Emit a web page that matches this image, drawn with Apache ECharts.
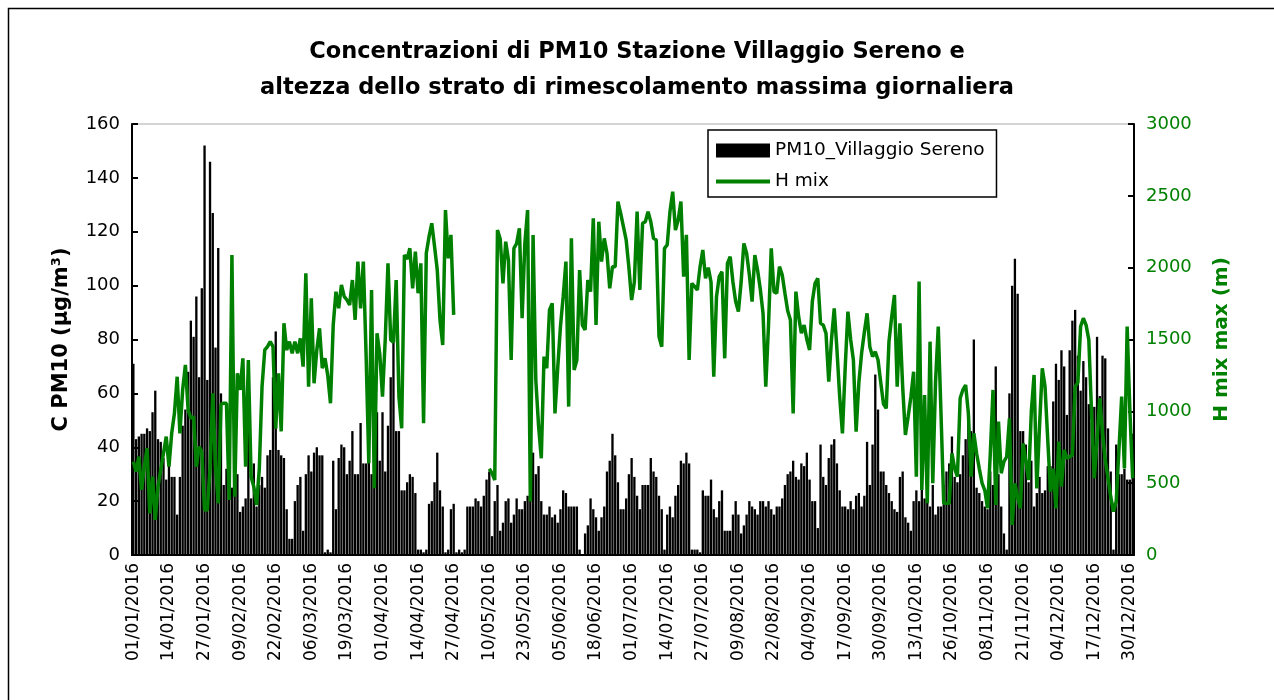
<!DOCTYPE html>
<html>
<head>
<meta charset="utf-8">
<script src="https://cdn.jsdelivr.net/npm/echarts@6/dist/echarts.min.js"></script>
<style>
  html, body { margin: 0; padding: 0; background: #fff; }
  #chart { width: 1274px; height: 700px; }
</style>
</head>
<body>
<div id="chart"></div>
<script>
// Daily PM10 concentration (µg/m³), 2016, station Villaggio Sereno
const pm10 = [
  71,43,44,45,45,47,46,53,61,43, 42,36,28,36,29,29,15,29,48,54,
  68,87,81,96,66,99,152,65,146,127, 77,114,60,26,32,21,25,31,30,16,
  18,21,65,21,34,18,26,29,25,37, 39,66,83,39,37,36,17,6,6,20,
  26,29,9,30,37,31,38,40,37,37, 1,2,1,35,17,36,41,40,30,35,
  46,30,30,49,34,34,36,30,35,53, 35,53,31,48,66,79,46,46,24,24,
  27,30,29,23,2,2,1,2,19,20, 27,38,24,18,1,2,17,19,1,2,
  1,2,18,18,18,21,20,18,22,28, 31,7,20,26,9,12,20,21,12,15,
  21,17,17,20,22,25,38,30,33,20, 15,15,18,14,15,12,17,24,23,18,
  18,18,18,2,0,8,11,21,17,14, 9,14,18,31,35,45,37,27,17,17,
  21,30,36,29,22,17,26,26,26,36, 31,29,22,17,2,15,18,14,22,26,
  35,34,38,34,2,2,2,1,24,22, 22,28,17,14,20,24,9,9,9,15,
  20,15,8,11,15,20,18,17,15,20, 20,18,20,17,15,18,18,21,26,30,
  31,35,29,28,34,33,38,28,20,20, 10,41,29,26,36,41,43,34,24,18,
  18,17,20,17,22,23,18,22,42,26, 41,67,54,31,31,26,23,20,17,16,
  29,31,14,12,9,20,24,20,26,21, 24,18,26,15,18,18,26,31,34,44,
  29,27,30,37,43,50,46,80,25,23, 20,18,17,31,26,70,30,18,8,2,
  60,100,110,97,46,46,41,27,35,18, 23,29,23,24,33,33,57,71,65,76,
  70,52,76,87,91,74,61,72,66,56, 49,55,81,59,74,73,47,31,2,41,
  30,30,32,28,28,45
];

// Daily maximum mixing height (m); null where no value was recorded
const hMix = [
  650,580,685,453,615,743,290,545,244,476, 592,708,824,615,847,986,1241,847,1149,1323,
  1010,951,963,615,754,720,313,313,603,1125, 620,360,1050,1056,1056,383,2088,406,1265,1149,
  1369,615,1357,545,475,348,600,1172,1427,1450, 1485,1450,880,1265,860,1613,1427,1485,1404,1485,
  1404,1508,1311,1961,1172,1787,1195,1427,1578,1300, 1369,1250,1056,1600,1833,1717,1880,1800,1775,1740,
  1914,1636,2042,1717,2042,1400,638,1845,464,1543, 1400,1102,1500,2030,1497,1480,1914,1100,882,2088,
  2060,2135,1856,2111,1822,2030,917,2100,2216,2309, 2150,1984,1636,1462,2401,2065,2228,1671,null,null,
  null,null,null,null,null,null,null,null,null,null, 600,570,522,2262,2200,1891,2181,2053,1357,2135,
  2169,2274,1648,2169,2401,372,2228,1218,900,673, 1381,1300,1706,1752,986,1300,1590,1800,2042,1033,
  2204,1288,1357,1984,1600,1566,1914,1833,2344,1601, 2320,2042,2204,2100,1856,2007,2007,2460,2378,2286,
  2193,2000,1775,1900,2390,1845,2309,2320,2390,2320, 2204,2193,1520,1450,2135,2158,2390,2529,2262,2332,
  2460,1938,2228,1357,1891,1870,1845,2007,2123,1926, 2000,1900,1241,1798,1938,1972,1369,2030,2077,1900,
  1764,1694,1900,2169,2100,1950,1764,2088,1984,1850, 1682,1172,1600,2135,1833,1822,2007,1950,1822,1700,
  1636,986,1833,1659,1543,1601,1500,1427,1764,1891, 1926,1613,1600,1543,1207,1500,1717,1427,1100,847,
  1300,1694,1500,1357,859,1200,1404,1550,1682,1450, 1381,1415,1357,1200,1050,1021,1485,1659,1810,1172,
  1613,1172,836,963,1100,1276,545,1903,453,1114, 360,1485,499,1200,1590,986,360,360,360,708,
  600,545,1091,1150,1183,986,545,847,708,600, 500,450,325,700,1149,348,928,569,650,684,
  951,209,499,400,325,777,650,522,1000,1253, 464,900,1300,1172,800,441,600,325,789,476,
  731,673,684,696,1172,1200,1590,1648,1600,1497, 986,534,800,1091,850,661,534,406,302,372,
  731,1102,603,1590,1000,534
];

const pmTicks = [0, 20, 40, 60, 80, 100, 120, 140, 160];
const hTicks = [0, 500, 1000, 1500, 2000, 2500, 3000];

// One category per day of 2016, labelled dd/mm/yyyy
const year = 2016;
const days = [];
for (let d = new Date(Date.UTC(year, 0, 1)); d.getUTCFullYear() === year; d.setUTCDate(d.getUTCDate() + 1)) {
  const dd = String(d.getUTCDate()).padStart(2, '0');
  const mm = String(d.getUTCMonth() + 1).padStart(2, '0');
  days.push(dd + '/' + mm + '/' + year);
}

const GREEN = '#008000';
const FONT = 'DejaVu Sans';
// Legend glyph for the line series: a 4px stroke centred in a 54x14 box
const LINE_ICON = 'path://M0,0M54,14M0,5H54V9H0Z';

const chart = echarts.init(document.getElementById('chart'), null, { renderer: 'canvas' });
chart.setOption({
  animation: false,
  backgroundColor: '#fff',
  textStyle: { fontFamily: FONT },
  title: {
    text: 'Concentrazioni di PM10 Stazione Villaggio Sereno e\naltezza dello strato di rimescolamento massima giornaliera',
    left: 'center',
    top: 29,
    textStyle: { fontFamily: FONT, fontSize: 22.5, fontWeight: 'bold', color: '#000', lineHeight: 36 }
  },
  legend: {
    orient: 'vertical',
    left: 708,
    top: 130,
    itemWidth: 54,
    itemHeight: 14,
    itemGap: 12,
    padding: [11, 12, 6, 8],
    borderColor: '#000',
    borderWidth: 1.5,
    backgroundColor: '#fff',
    textStyle: { fontFamily: FONT, fontSize: 18.5, color: '#000' },
    data: [
      { name: 'PM10_Villaggio Sereno', icon: 'rect', itemStyle: { color: '#000' } },
      { name: 'H mix', icon: LINE_ICON, itemStyle: { color: GREEN } }
    ]
  },
  grid: {
    left: 132, right: 140, top: 124, bottom: 145,
    show: true, borderColor: '#aaa', borderWidth: 1
  },
  xAxis: {
    type: 'category',
    data: days,
    axisLine: { lineStyle: { color: '#000', width: 2 } },
    axisTick: { interval: 0, length: 5, lineStyle: { color: '#000', width: 1 } },
    axisLabel: { interval: 12, rotate: 90, fontSize: 17, color: '#000', margin: 8, fontFamily: FONT }
  },
  yAxis: [
    {
      type: 'value', position: 'left',
      min: pmTicks[0], max: pmTicks[pmTicks.length - 1], interval: pmTicks[1] - pmTicks[0],
      axisLine: { show: true, lineStyle: { color: '#000', width: 2 } },
      axisTick: { show: true, inside: true, length: 6, lineStyle: { color: '#000', width: 2 } },
      splitLine: { show: false },
      axisLabel: { fontSize: 18, color: '#000', margin: 12, fontFamily: FONT },
      name: 'C PM10 (μg/m³)',
      nameLocation: 'middle',
      nameGap: 60,
      nameTextStyle: { fontSize: 21, fontWeight: 'bold', color: '#000', fontFamily: FONT }
    },
    {
      type: 'value', position: 'right',
      min: hTicks[0], max: hTicks[hTicks.length - 1], interval: hTicks[1] - hTicks[0],
      axisLine: { show: true, lineStyle: { color: '#000', width: 2 } },
      axisTick: { show: true, inside: true, length: 6, lineStyle: { color: '#000', width: 2 } },
      splitLine: { show: false },
      axisLabel: { fontSize: 18, color: GREEN, margin: 12, fontFamily: FONT, formatter: v => String(v) },
      name: 'H mix max (m)',
      nameLocation: 'middle',
      nameRotate: 90,
      nameGap: 78,
      nameTextStyle: { fontSize: 20, fontWeight: 'bold', color: GREEN, fontFamily: FONT }
    }
  ],
  series: [
    {
      name: 'PM10_Villaggio Sereno',
      type: 'bar',
      data: pm10,
      barCategoryGap: '15%',
      itemStyle: { color: '#000' }
    },
    {
      name: 'H mix',
      type: 'line',
      yAxisIndex: 1,
      data: hMix,
      symbol: 'none',
      connectNulls: false,
      lineStyle: { color: GREEN, width: 3.5 },
      itemStyle: { color: GREEN }
    }
  ],
  graphic: [
    {
      type: 'rect',
      shape: { x: 8.5, y: 8.5, width: 1300, height: 800 },
      style: { fill: 'none', stroke: '#000', lineWidth: 1.5 },
      silent: true
    }
  ]
});
</script>
</body>
</html>
